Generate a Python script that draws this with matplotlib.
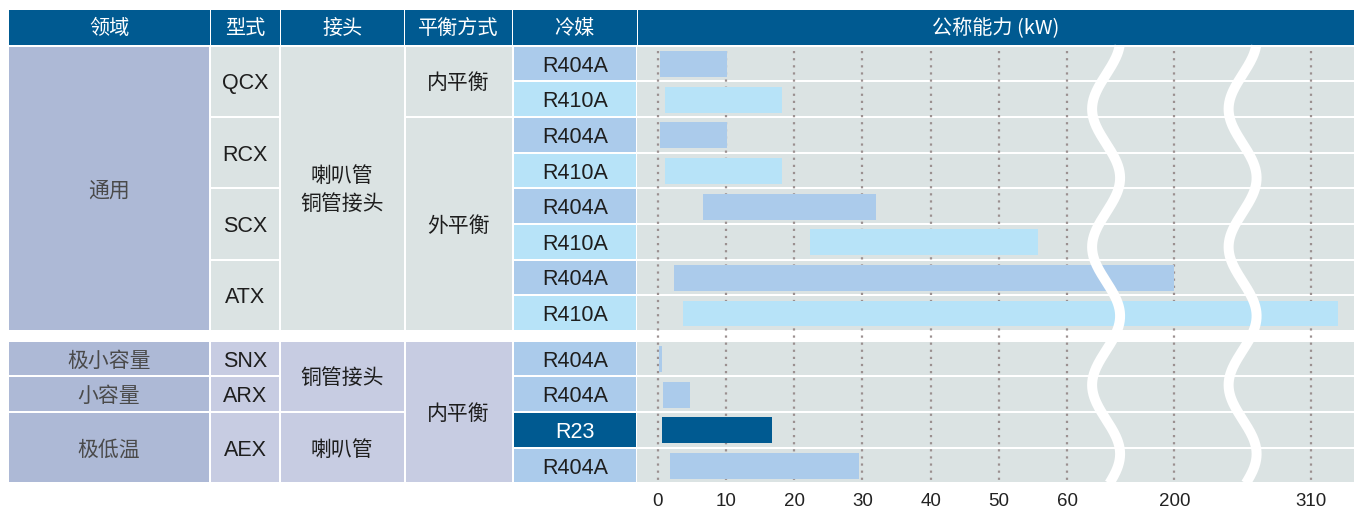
import numpy as np
import matplotlib.pyplot as plt
from matplotlib.patches import Rectangle

# ---- data ----
header = ['领域', '型式', '接头', '平衡方式', '冷媒', '公称能力 (kW)']
refrigerants = ['R404A', 'R410A', 'R404A', 'R410A', 'R404A', 'R410A', 'R404A', 'R410A',
                'R404A', 'R404A', 'R23', 'R404A']
cap_min = [0.3, 1.1, 0.3, 1.1, 6.6, 22.3, 2.4, 3.7, 0.2, 0.75, 0.6, 1.8]
cap_max = [10.1, 18.2, 10.1, 18.2, 32.0, 55.7, 200, 314, 0.6, 4.7, 16.8, 29.5]
ticks = [0, 10, 20, 30, 40, 50, 60, 200, 310]

# merged cells: (label, first row, last row)
field_cells = [('通用', 0, 7), ('极小容量', 8, 8), ('小容量', 9, 9), ('极低温', 10, 11)]
model_cells = [('QCX', 0, 1), ('RCX', 2, 3), ('SCX', 4, 5), ('ATX', 6, 7),
               ('SNX', 8, 8), ('ARX', 9, 9), ('AEX', 10, 11)]
joint_cells = [('喇叭管\n铜管接头', 0, 7), ('铜管接头', 8, 9), ('喇叭管', 10, 11)]
balance_cells = [('内平衡', 0, 1), ('外平衡', 2, 7), ('内平衡', 8, 11)]

# ---- colours ----
C_HEAD = '#005a91'
C_FIELD = '#adb9d6'
C_GREY = '#dbe3e3'
C_LAV = '#c7cce2'
REF_COL = {'R404A': '#abcbeb', 'R410A': '#b7e3f8', 'R23': '#005a91'}

CJK = ['Noto Sans CJK SC', 'DejaVu Sans']
LAT = ['Liberation Sans', 'DejaVu Sans']

# ---- layout (pixels) ----
W, H = 1354, 508
col_edges = [8, 210, 280, 404.5, 512.5, 637, 1354]
head_top, head_bot = 10, 44.5
row_h = 35.66
top0 = 45.7
bot0 = 340.7


def row_top(i):
    return top0 + i * row_h if i < 8 else bot0 + (i - 8) * row_h


fig = plt.figure(figsize=(W / 100, H / 100), dpi=100)
tab = fig.add_axes([0, 0, 1, 1])
tab.set_xlim(0, W)
tab.set_ylim(H, 0)
tab.axis('off')


def cell(c, r0, r1, color, text=None, tcolor='#1e1e1e', fam=CJK, size=15):
    x0, x1 = col_edges[c] + 1, col_edges[c + 1] - 1
    y0 = row_top(r0) + 1
    y1 = row_top(r1) + row_h - 1
    tab.add_patch(Rectangle((x0, y0), x1 - x0, y1 - y0, color=color, lw=0))
    if text:
        dy = 2.5 if fam is LAT else 2
        tab.text((x0 + x1) / 2, (y0 + y1) / 2 + dy, text, ha='center', va='center',
                 color=tcolor, family=fam, fontsize=size, linespacing=1.35)


# header
for c, name in enumerate(header):
    x0, x1 = col_edges[c] + 0.5, col_edges[c + 1] - 0.5
    tab.add_patch(Rectangle((x0, head_top), x1 - x0, head_bot - head_top, color=C_HEAD, lw=0))
    tab.text((x0 + x1) / 2, (head_top + head_bot) / 2 + 1, name, ha='center', va='center',
             color='white', family=CJK, fontsize=14.5)

for name, a, b in field_cells:
    cell(0, a, b, C_FIELD, name, tcolor='#4a4a4a')
for name, a, b in model_cells:
    cell(1, a, b, C_GREY if a < 8 else C_LAV, name, fam=LAT, size=15.5)
for name, a, b in joint_cells:
    cell(2, a, b, C_GREY if a < 8 else C_LAV, name)
for name, a, b in balance_cells:
    cell(3, a, b, C_GREY if a < 8 else C_LAV, name)
for i, ref in enumerate(refrigerants):
    cell(4, i, i, REF_COL[ref], ref, tcolor='white' if ref == 'R23' else '#1e1e1e',
         fam=LAT, size=15.5)

# ---- bar chart with broken axis ----
ax_y0, ax_y1 = top0, bot0 + 4 * row_h
ax = fig.add_axes([col_edges[5] / W, 1 - ax_y1 / H, (W - col_edges[5]) / W, (ax_y1 - ax_y0) / H])
ax.set_facecolor('none')

bv = [-10, 65.7, 190.0, 210.0, 300.0, 330.0]
bu = [-10, 65.7, 65.71, 85.7, 85.71, 115.7]
ax.set_xscale('function', functions=(lambda v: np.interp(v, bv, bu),
                                     lambda u: np.interp(u, bu, bv)))
ax.set_xlim(-3.03, 316.3)
ax.set_ylim(ax_y1, ax_y0)

for i in range(len(refrigerants)):
    ax.axhspan(row_top(i) + 1, row_top(i) + row_h - 1, color=C_GREY, lw=0, zorder=0)

ax.vlines(ticks, top0 + 5, ax_y1, colors='#9b9090', linestyles=(0, (1, 2.2)), lw=1.6, zorder=1)

centers = [row_top(i) + row_h / 2 + 0.5 for i in range(len(refrigerants))]
widths = [b - a for a, b in zip(cap_min, cap_max)]
ax.barh(centers, widths, left=cap_min, height=25.7,
        color=[REF_COL[r] for r in refrigerants], lw=0, zorder=2)

ax.set_xticks(ticks)
ax.set_xticklabels([str(t) for t in ticks], family=LAT, fontsize=13.5, color='#222222')
ax.tick_params(axis='x', length=0, pad=7)
ax.set_yticks([])
for s in ax.spines.values():
    s.set_visible(False)

# white wavy break marks
px0, pxu = 657.7, 6.825
yy = np.linspace(top0, ax_y1, 300)
for ub in (65.7, 85.7):
    xc = px0 + ub * pxu
    xx = xc + 14 * np.cos(2 * np.pi * (yy - 40) / 138)
    tab.plot(xx, yy, color='white', lw=7.2, solid_capstyle='butt', zorder=5)
tab.set_zorder(3)
tab.patch.set_visible(False)

fig.savefig('out.png', dpi=100)
